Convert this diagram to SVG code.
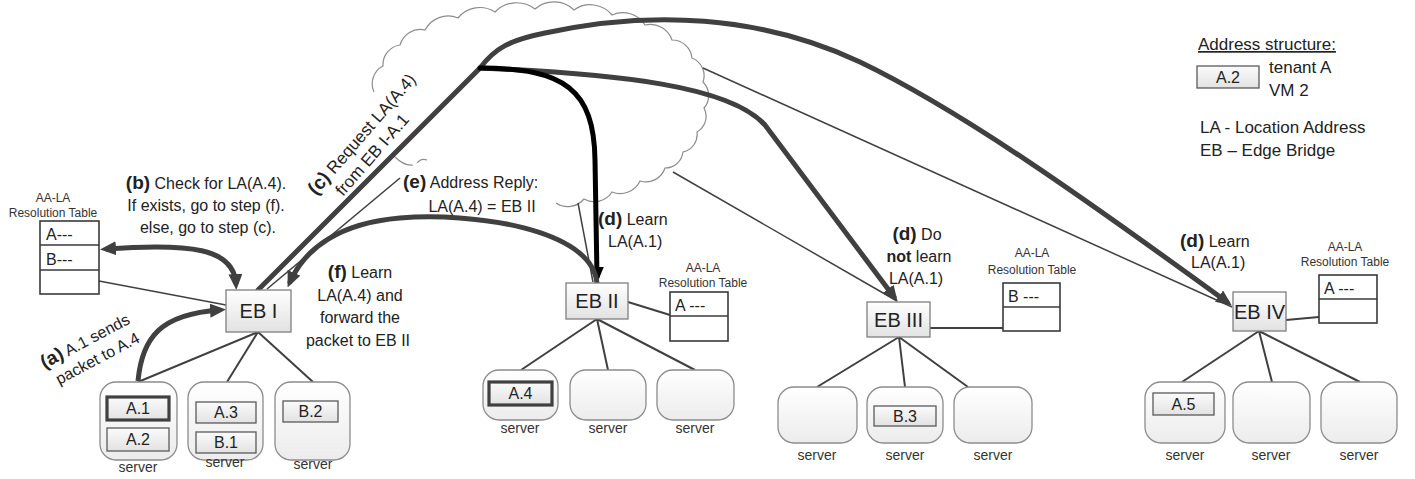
<svg xmlns="http://www.w3.org/2000/svg" width="1415" height="479" viewBox="0 0 1415 479">
<defs>
<linearGradient id="gEB" x1="0" y1="0" x2="0" y2="1"><stop offset="0" stop-color="#ffffff"/><stop offset="1" stop-color="#e2e2e2"/></linearGradient>
<linearGradient id="gSrv" x1="0" y1="0" x2="0" y2="1"><stop offset="0" stop-color="#ffffff"/><stop offset="1" stop-color="#ececec"/></linearGradient>
<linearGradient id="gVM" x1="0" y1="0" x2="0" y2="1"><stop offset="0" stop-color="#fbfbfb"/><stop offset="1" stop-color="#e2e2e2"/></linearGradient>
<marker id="ah" markerUnits="userSpaceOnUse" markerWidth="16" markerHeight="14" viewBox="0 0 16 14" refX="10" refY="7" orient="auto-start-reverse"><path d="M0,0 L16,7 L0,14 z" fill="#404040"/></marker>
<marker id="ahb" markerUnits="userSpaceOnUse" markerWidth="16" markerHeight="14" viewBox="0 0 16 14" refX="10" refY="7" orient="auto"><path d="M0,0 L16,7 L0,14 z" fill="#000"/></marker>
</defs>
<style>
.t{font-family:"Liberation Sans",Arial,sans-serif;fill:#222}
.lbl{font-size:16px}
.b{font-weight:bold;font-size:19px}
.nb{font-weight:bold}
.eb{fill:url(#gEB);stroke:#7f7f7f;stroke-width:1.3}
.ebt{font-size:20px;text-anchor:middle}
.srv{fill:url(#gSrv);stroke:#8c8c8c;stroke-width:1.3}
.srvt{font-size:14px;text-anchor:middle;fill:#333}
.vm{fill:url(#gVM);stroke:#5a5a5a;stroke-width:1.3}
.vmk{stroke:#404040;stroke-width:3.2}
.vmt{font-size:16px;text-anchor:middle}
.tbl{fill:#fff;stroke:#3a3a3a;stroke-width:1.6}
.tt{font-size:12px;text-anchor:middle;fill:#333}
.tc{font-size:16px}
.thin{fill:none;stroke:#404040;stroke-width:1.5}
.tree{fill:none;stroke:#404040;stroke-width:2}
.thick{fill:none;stroke:#404040;stroke-width:5;stroke-linecap:round}
.blk{fill:none;stroke:#000;stroke-width:5;stroke-linecap:round}
.cloud{fill:none;stroke:#8c8c8c;stroke-width:1.2}
</style>

<g id="cloud">
<path class="cloud" d="M374,92 A20 20 0 0 1 383,66 A20 20 0 0 1 400,45 A21 21 0 0 1 425,30 A26 26 0 0 1 458,18 A28 28 0 0 1 495,12 A30 30 0 0 1 535,9 A29 29 0 0 1 574,10 A28 28 0 0 1 612,15 A26 26 0 0 1 645,25 A23 23 0 0 1 672,40 A20 20 0 0 1 692,58 A19 19 0 0 1 703,82 A19 19 0 0 1 704,108 A18 18 0 0 1 697,132 A18 18 0 0 1 683,152 A18 18 0 0 1 665,168 A20 20 0 0 1 640,181 A22 22 0 0 1 612,192 A21 21 0 0 1 584,199 A21 21 0 0 1 556,203"/>
<path class="cloud" d="M395,157 Q404,166 413,165 M417,163 Q421,158 427,160"/>
</g>

<g id="connectors">
<path class="tree" d="M258,332 L138,382 M258,332 L227,382 M258,332 L313,382"/>
<path class="tree" d="M597,319 L521,370 M597,319 L608,370 M597,319 L695,370"/>
<path class="tree" d="M899,337 L817,387 M899,337 L905,387 M899,337 L968,387"/>
<path class="tree" d="M1259,331 L1182,382 M1259,331 L1272,382 M1259,331 L1360,382"/>
<path class="thin" d="M99,281 L226,305"/>
<path class="tree" d="M628,302 L670,315"/>
<path class="tree" d="M930,328 L1003,328"/>
<path class="tree" d="M1286,320 L1319,317"/>
<path class="thin" d="M267,289 L400,178"/>
<path class="thin" d="M593,282 L578,203"/>
<path class="thin" d="M673,172 L897,301"/>
<path class="thin" d="M703,68 L1232,307"/>
<path class="thick" style="stroke-linecap:butt" d="M138,381 C142,338 160,314 220,310" marker-end="url(#ah)"/>
<path class="thick" style="stroke-linecap:butt" d="M106,249 C190,243 234,248 236,284" marker-start="url(#ah)" marker-end="url(#ah)"/>
<path class="thick" d="M258,290 L480,68 C495,48 510,40 545,33 C650,10 760,15 860,62 C960,110 1080,195 1227,302" marker-end="url(#ah)"/>
<path class="thick" d="M480,68 C620,74 730,86 765,125 L894,297" marker-end="url(#ah)"/>
<path class="blk" d="M480,68 C565,68 594,90 595,160 L597,277" marker-end="url(#ahb)"/>
<path class="thick" d="M597,283 C592,228 470,212 400,218 C340,223 305,248 290,282" marker-end="url(#ah)"/>
</g>

<g id="eb1">
<rect class="eb" x="226" y="290" width="65" height="42"/>
<text class="t ebt" x="258.5" y="318">EB I</text>
</g>
<g id="eb2">
<rect class="eb" x="566" y="283" width="62" height="36"/>
<text class="t ebt" x="597" y="308">EB II</text>
</g>
<g id="eb3">
<rect class="eb" x="867" y="302" width="63" height="35"/>
<text class="t ebt" x="898.5" y="327">EB III</text>
</g>
<g id="eb4">
<rect class="eb" x="1233" y="292" width="53" height="39"/>
<text class="t ebt" x="1259.5" y="319">EB IV</text>
</g>

<g id="table1">
<text class="t tt" x="53" y="202">AA-LA</text>
<text class="t tt" x="53" y="217">Resolution Table</text>
<rect class="tbl" x="40" y="221" width="59" height="73"/>
<path class="tbl" d="M40,245 H99 M40,270 H99"/>
<text class="t tc" x="46" y="240">A---</text>
<text class="t tc" x="46" y="265">B---</text>
</g>
<g id="table2">
<text class="t tt" x="703" y="272">AA-LA</text>
<text class="t tt" x="703" y="287">Resolution Table</text>
<rect class="tbl" x="670" y="292" width="58" height="49"/>
<path class="tbl" d="M670,316 H728"/>
<text class="t tc" x="675" y="311">A ---</text>
</g>
<g id="table3">
<text class="t tt" x="1032" y="257">AA-LA</text>
<text class="t tt" x="1032" y="274">Resolution Table</text>
<rect class="tbl" x="1003" y="283" width="57" height="48"/>
<path class="tbl" d="M1003,307 H1060"/>
<text class="t tc" x="1008" y="302">B ---</text>
</g>
<g id="table4">
<text class="t tt" x="1345" y="251">AA-LA</text>
<text class="t tt" x="1345" y="266">Resolution Table</text>
<rect class="tbl" x="1319" y="275" width="58" height="48"/>
<path class="tbl" d="M1319,299 H1377"/>
<text class="t tc" x="1324" y="294">A ---</text>
</g>

<g id="servers-eb1">
<rect class="srv" x="100" y="382" width="77" height="78" rx="16"/>
<rect class="vm vmk" x="107" y="397" width="62" height="23"/>
<text class="t vmt" x="138" y="414">A.1</text>
<rect class="vm" x="107" y="428" width="62" height="23"/>
<text class="t vmt" x="138" y="445">A.2</text>
<text class="t srvt" x="138" y="472">server</text>
<rect class="srv" x="188" y="382" width="75" height="78" rx="16"/>
<rect class="vm" x="196" y="402" width="60" height="21"/>
<text class="t vmt" x="226" y="418">A.3</text>
<rect class="vm" x="196" y="432" width="60" height="21"/>
<text class="t vmt" x="226" y="448">B.1</text>
<text class="t srvt" x="225" y="467">server</text>
<rect class="srv" x="275" y="382" width="75" height="78" rx="16"/>
<rect class="vm" x="283" y="401" width="55" height="21"/>
<text class="t vmt" x="310.5" y="417">B.2</text>
<text class="t srvt" x="313" y="469">server</text>
</g>
<g id="servers-eb2">
<rect class="srv" x="483" y="370" width="75" height="50" rx="16"/>
<rect class="vm vmk" x="489" y="382" width="63" height="23"/>
<text class="t vmt" x="520.5" y="399">A.4</text>
<text class="t srvt" x="520" y="433">server</text>
<rect class="srv" x="570" y="370" width="76" height="50" rx="16"/>
<text class="t srvt" x="608" y="433">server</text>
<rect class="srv" x="657" y="370" width="77" height="50" rx="16"/>
<text class="t srvt" x="695" y="433">server</text>
</g>
<g id="servers-eb3">
<rect class="srv" x="778" y="387" width="79" height="56" rx="16"/>
<text class="t srvt" x="817" y="460">server</text>
<rect class="srv" x="867" y="387" width="76" height="56" rx="16"/>
<rect class="vm" x="874" y="406" width="62" height="20"/>
<text class="t vmt" x="905" y="422">B.3</text>
<text class="t srvt" x="905" y="460">server</text>
<rect class="srv" x="954" y="387" width="78" height="56" rx="16"/>
<text class="t srvt" x="993" y="460">server</text>
</g>
<g id="servers-eb4">
<rect class="srv" x="1145" y="382" width="80" height="61" rx="16"/>
<rect class="vm" x="1153" y="393" width="61" height="22"/>
<text class="t vmt" x="1183.5" y="410">A.5</text>
<text class="t srvt" x="1185" y="460">server</text>
<rect class="srv" x="1233" y="382" width="77" height="61" rx="16"/>
<text class="t srvt" x="1271" y="460">server</text>
<rect class="srv" x="1321" y="382" width="76" height="61" rx="16"/>
<text class="t srvt" x="1359" y="460">server</text>
</g>

<g id="labels" class="t lbl">
<g transform="translate(131,323) rotate(-28)">
<text x="0" y="0" text-anchor="end"><tspan class="b">(a)</tspan> A.1 sends</text>
<text x="0" y="21" text-anchor="end">packet to A.4</text>
</g>
<text x="206" y="189" text-anchor="middle"><tspan class="b">(b)</tspan> Check for LA(A.4).</text>
<text x="206" y="211" text-anchor="middle">If exists, go to step (f).</text>
<text x="208" y="233" text-anchor="middle">else, go to step (c).</text>
<text transform="translate(316,196) rotate(-49)" font-size="17"><tspan class="b">(c)</tspan> Request LA(A.4)</text>
<text transform="translate(343,197) rotate(-49)" font-size="17">from EB I-A.1</text>
<text x="403" y="188"><tspan class="b">(e)</tspan> Address Reply:</text>
<text x="482" y="212" text-anchor="middle">LA(A.4) = EB II</text>
<text x="598" y="225"><tspan class="b">(d)</tspan> Learn</text>
<text x="608" y="247">LA(A.1)</text>
<text x="360" y="278" text-anchor="middle"><tspan class="b">(f)</tspan> Learn</text>
<text x="360" y="301" text-anchor="middle">LA(A.4) and</text>
<text x="360" y="323" text-anchor="middle">forward the</text>
<text x="358" y="346" text-anchor="middle">packet to EB II</text>
<text x="917" y="240" text-anchor="middle"><tspan class="b">(d)</tspan> Do</text>
<text x="919" y="262" text-anchor="middle"><tspan class="nb">not</tspan> learn</text>
<text x="916" y="284" text-anchor="middle">LA(A.1)</text>
<text x="1180" y="247"><tspan class="b">(d)</tspan> Learn</text>
<text x="1191" y="268">LA(A.1)</text>
</g>

<g id="legend" class="t">
<text x="1198" y="50" font-size="17" text-decoration="underline">Address structure:</text>
<rect class="vm" x="1197" y="66" width="62" height="22"/>
<text class="vmt" x="1228" y="83" font-size="17" text-anchor="middle">A.2</text>
<text x="1269" y="73" font-size="17">tenant A</text>
<text x="1269" y="96" font-size="17">VM 2</text>
<text x="1200" y="133" font-size="17">LA - Location Address</text>
<text x="1200" y="156" font-size="17">EB – Edge Bridge</text>
</g>
</svg>
